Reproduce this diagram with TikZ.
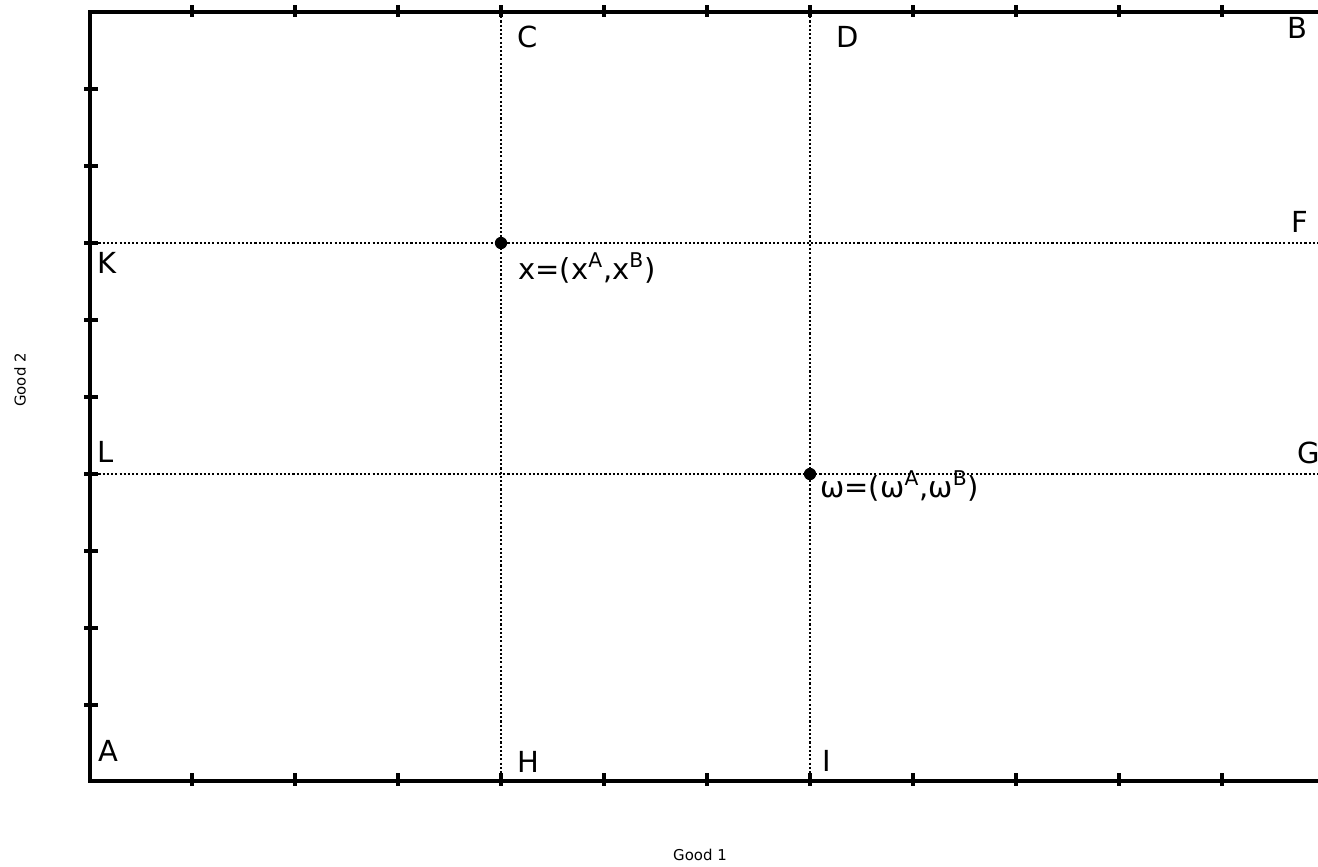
\documentclass[tikz,border=0pt]{standalone}
\usepackage{fontspec}
\setmainfont{DejaVu Sans}
\usetikzlibrary{positioning}
\begin{document}
\begin{tikzpicture}[
        x=0.02cm, y=-0.02cm,
        axis/.style={line width=1.8pt},
        tickmark/.style={line width=1.8pt},
        gridline/.style={dash pattern=on 1.2pt off 1.2pt, line width=1.3pt},
        point/.style={circle, fill, inner sep=0pt, minimum size=7pt},
        corner/.style={anchor=base west, inner sep=0pt, font=\fontsize{16.5}{18}\selectfont},
        goodlabel/.style={inner sep=0pt, font=\fontsize{8.5}{10}\selectfont}
    ]
        \useasboundingbox (0,0) rectangle (1318,866);
        % box corners and crossings
        \coordinate (sw) at (90,781);
        \coordinate (nw) at (90,12);
        \coordinate (ne) at (1330,12);
        \coordinate (se) at (1330,781);
        \coordinate (xtop) at (501,12);
        \coordinate (xbot) at (501,781);
        \coordinate (wtop) at (810,12);
        \coordinate (wbot) at (810,781);
        \coordinate (kleft) at (90,243);
        \coordinate (kright) at (1330,243);
        \coordinate (lleft) at (90,474);
        \coordinate (lright) at (1330,474);

        % dotted lines
        \draw[gridline] (xtop) -- (xbot);
        \draw[gridline] (wtop) -- (wbot);
        \draw[gridline] (kleft) -- (kright);
        \draw[gridline] (lleft) -- (lright);

        % box and ticks
        \draw[axis] (nw) -- (sw) -- (se) -- (ne) -- cycle;
        \foreach \x in {192,295,...,1222} {
            \draw[tickmark] (\x,5) -- (\x,17);
            \draw[tickmark] (\x,773) -- (\x,786);
        }
        \foreach \y in {89,166,...,705}
            \draw[tickmark] (84,\y) -- (98,\y);

        % allocations
        \node[point] (x) at (501,243) {};
        \node[point] (w) at (810,474) {};

        % labels
        \node[corner] (A) at (98,761) {A};
        \node[corner] (B) at (1287,38) {B};
        \node[corner] (C) at (517,47) {C};
        \node[corner] (D) at (836,47) {D};
        \node[corner] (F) at (1291,232) {F};
        \node[corner] (G) at (1297,463) {G};
        \node[corner] (H) at (517,772) {H};
        \node[corner] (I) at (822,771) {I};
        \node[corner] (K) at (97,273) {K};
        \node[corner] (L) at (97,462) {L};
        \node[corner] (xlabel) at (518,279) {x=(x\textsuperscript{A},x\textsuperscript{B})};
        \node[corner] (wlabel) at (820,497) {ω=(ω\textsuperscript{A},ω\textsuperscript{B})};

        \node[goodlabel] (good1) at (700,855) {Good 1};
        \node[goodlabel, rotate=90] (good2) at (20,380) {Good 2};
    \end{tikzpicture}
\end{document}
